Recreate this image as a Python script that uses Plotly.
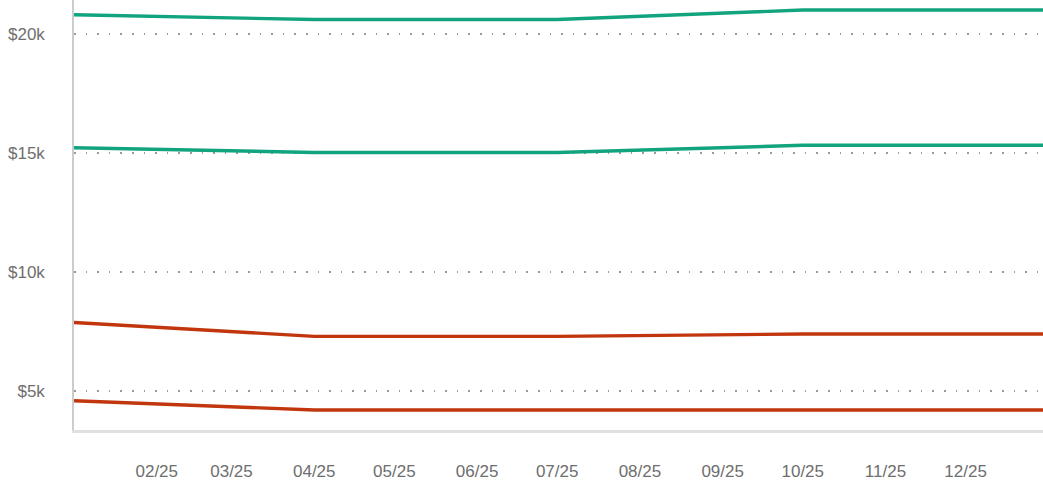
import plotly.graph_objects as go

dates = ["2025-01-01", "2025-04-01", "2025-07-01", "2025-10-01", "2025-12-31"]
green_high = [20800, 20600, 20600, 21000, 21000]
green_low = [15220, 15020, 15020, 15320, 15320]
red_high = [7880, 7300, 7300, 7400, 7400]
red_low = [4600, 4210, 4210, 4210, 4210]

tick_vals = ["2025-02-01", "2025-03-01", "2025-04-01", "2025-05-01", "2025-06-01",
             "2025-07-01", "2025-08-01", "2025-09-01", "2025-10-01", "2025-11-01",
             "2025-12-01"]
tick_text = ["02/25", "03/25", "04/25", "05/25", "06/25", "07/25", "08/25",
             "09/25", "10/25", "11/25", "12/25"]
y_ticks = [5000, 10000, 15000, 20000]
y_text = ["$5k", "$10k", "$15k", "$20k"]

GREEN = "#12a47f"
RED = "#c2360e"

fig = go.Figure()
for vals, col in [(green_high, GREEN), (green_low, GREEN), (red_high, RED), (red_low, RED)]:
    fig.add_trace(go.Scatter(x=dates, y=vals, mode="lines",
                             line=dict(color=col, width=3.4),
                             hoverinfo="skip", showlegend=False))

fig.update_layout(
    width=1043, height=481,
    margin=dict(l=74, r=0, t=0, b=49),
    paper_bgcolor="white", plot_bgcolor="white",
    font=dict(family="Liberation Sans, Arial, sans-serif", size=17, color="#6e6e6e"),
    xaxis=dict(
        type="date",
        range=["2025-01-01", "2025-12-30"],
        tickvals=tick_vals, ticktext=tick_text,
        showgrid=False, zeroline=False,
        showline=True, linecolor="#e0e0e0", linewidth=2.5,
        ticks="", ticklabelstandoff=24,
    ),
    yaxis=dict(
        range=[3370, 21420],
        tickvals=y_ticks, ticktext=y_text,
        showgrid=True, gridcolor="#9a9a9a", gridwidth=1.6,
        griddash="1.6px,10px",
        zeroline=False,
        showline=True, linecolor="#cccccc", linewidth=1.5,
        ticks="", ticklabelstandoff=24,
    ),
)

fig.write_html(
    "out.html",
    config={"displayModeBar": False},
    post_script="document.body.style.margin='0';document.body.style.overflow='hidden';",
)
